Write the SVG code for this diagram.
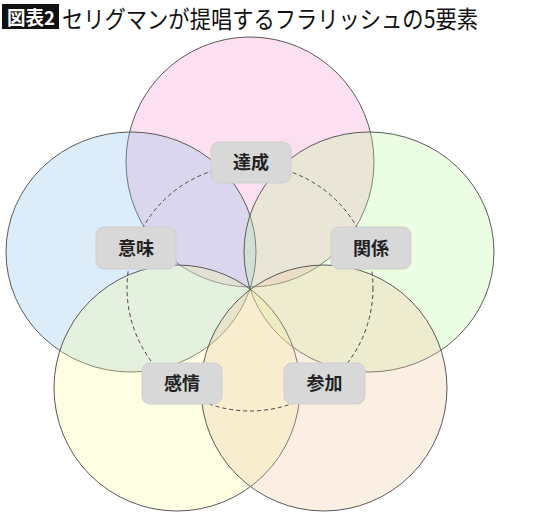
<svg xmlns="http://www.w3.org/2000/svg" width="550" height="520" viewBox="0 0 550 520">
<style>
.c{stroke:#5a5a5a;stroke-width:1;fill-opacity:0.3}
.box{fill:#d8d8d8;stroke:#cfcfcf;stroke-width:1}
.lbl{font-family:"Noto Sans CJK JP","Noto Sans",sans-serif;font-size:18px;font-weight:bold;fill:#222;text-anchor:middle}
.ttl{font-family:"Noto Sans CJK JP","Noto Sans",sans-serif}
</style>
<rect width="550" height="520" fill="#ffffff"/>
<g id="title">
<rect x="2" y="4" width="57" height="25" fill="#111"/>
<text class="ttl" x="7" y="24.5" font-size="19" font-weight="bold" fill="#fff" textLength="48" lengthAdjust="spacingAndGlyphs">図表2</text>
<text class="ttl" x="62" y="28" font-size="24" fill="#111" textLength="416" lengthAdjust="spacingAndGlyphs">セリグマンが提唱するフラリッシュの5要素</text>
</g>
<g id="node-achievement"><ellipse class="c" cx="250" cy="162" rx="124" ry="125" fill="#f594cd"/></g>
<g id="node-meaning"><ellipse class="c" cx="131" cy="252" rx="125" ry="120" fill="#8ac3eb"/></g>
<g id="node-relationships"><ellipse class="c" cx="369" cy="252" rx="125" ry="120" fill="#bcf89e"/></g>
<g id="node-emotion"><ellipse class="c" cx="177" cy="388" rx="123" ry="123" fill="#f8fc9e"/></g>
<g id="node-engagement"><ellipse class="c" cx="324" cy="388" rx="123" ry="123" fill="#f2c6a2"/></g>
<g id="connectors"><circle cx="250" cy="288" r="123" fill="none" stroke="#444" stroke-width="1" stroke-dasharray="4 3"/></g>
<g id="label-achievement"><rect class="box" x="211" y="142" width="80" height="41" rx="8"/><text class="lbl" x="251" y="169">達成</text></g>
<g id="label-meaning"><rect class="box" x="96" y="227" width="80" height="42" rx="8"/><text class="lbl" x="136" y="254.5">意味</text></g>
<g id="label-relationships"><rect class="box" x="331" y="227" width="80" height="42" rx="8"/><text class="lbl" x="371" y="254.5">関係</text></g>
<g id="label-emotion"><rect class="box" x="142" y="363" width="80" height="41" rx="8"/><text class="lbl" x="182" y="390">感情</text></g>
<g id="label-engagement"><rect class="box" x="284" y="363" width="81" height="41" rx="8"/><text class="lbl" x="324.5" y="390">参加</text></g>
</svg>
